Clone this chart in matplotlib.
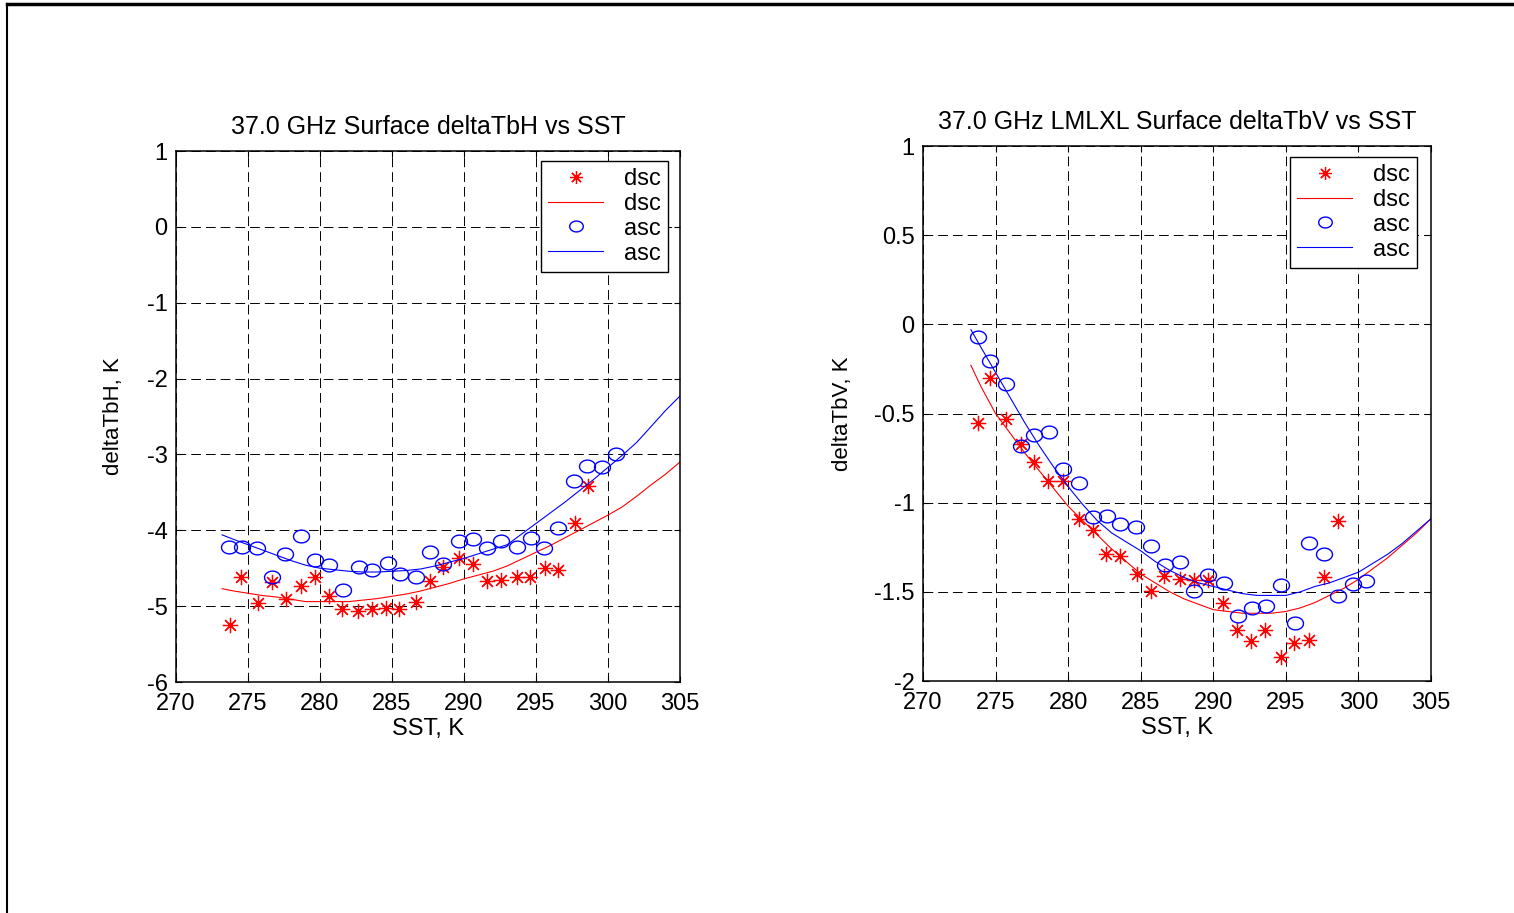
import numpy as np
import matplotlib
matplotlib.use("Agg")
import matplotlib.pyplot as plt
from matplotlib.lines import Line2D
from matplotlib.path import Path

plt.rcParams["font.family"] = ["Liberation Sans", "DejaVu Sans"]
plt.rcParams["axes.unicode_minus"] = False
plt.rcParams["lines.scale_dashes"] = False

# --- Left panel: 37.0 GHz deltaTbH ---
h_dsc_x = [273.75, 274.54, 275.67, 276.65, 277.62, 278.66, 279.63, 280.6, 281.55, 282.66,
           283.59, 284.56, 285.51, 286.65, 287.62, 288.57, 289.68, 290.65, 291.62, 292.55,
           293.66, 294.59, 295.61, 296.53, 297.69, 298.61]
h_dsc_y = [-5.25, -4.62, -4.96, -4.68, -4.90, -4.74, -4.62, -4.86, -5.04, -5.07,
           -5.04, -5.02, -5.04, -4.94, -4.67, -4.48, -4.37, -4.44, -4.67, -4.65,
           -4.62, -4.62, -4.50, -4.52, -3.91, -3.42]
h_asc_x = [273.7, 274.56, 275.65, 276.65, 277.57, 278.68, 279.63, 280.6, 281.58, 282.69,
           283.61, 284.72, 285.53, 286.67, 287.62, 288.57, 289.68, 290.65, 291.62, 292.57,
           293.66, 294.63, 295.58, 296.55, 297.64, 298.57, 299.59, 300.54]
h_asc_y = [-4.22, -4.22, -4.24, -4.62, -4.31, -4.08, -4.39, -4.46, -4.79, -4.48,
           -4.52, -4.43, -4.58, -4.62, -4.29, -4.45, -4.14, -4.12, -4.23, -4.14,
           -4.22, -4.10, -4.24, -3.97, -3.35, -3.15, -3.16, -2.99]

fit_x = [273.2, 274, 275, 276, 277, 278, 279, 280, 281, 282, 283, 284, 285, 286, 287, 288,
         289, 290, 291, 292, 293, 294, 295, 296, 297, 298, 299, 300, 301, 302, 303, 304, 305]
h_dsc_fit = [-4.77, -4.80, -4.83, -4.86, -4.88, -4.91, -4.94, -4.94, -4.94, -4.94, -4.92,
             -4.90, -4.87, -4.84, -4.80, -4.75, -4.70, -4.64, -4.59, -4.54, -4.47, -4.38,
             -4.29, -4.20, -4.10, -4.00, -3.90, -3.80, -3.69, -3.55, -3.40, -3.26, -3.10]
h_asc_fit = [-4.06, -4.12, -4.19, -4.26, -4.33, -4.40, -4.46, -4.50, -4.52, -4.54, -4.55,
             -4.55, -4.54, -4.53, -4.51, -4.47, -4.42, -4.37, -4.31, -4.25, -4.19, -4.05,
             -3.91, -3.77, -3.63, -3.48, -3.33, -3.17, -3.01, -2.84, -2.63, -2.42, -2.23]

# --- Right panel: 37.0 GHz LMLXL deltaTbV ---
v_dsc_x = [273.81, 274.60, 275.69, 276.73, 277.66, 278.61, 279.63, 280.72, 281.70, 282.64,
           283.59, 284.73, 285.68, 286.61, 287.68, 288.65, 289.65, 290.69, 291.64, 292.62,
           293.57, 294.68, 295.58, 296.58, 297.65, 298.62]
v_dsc_y = [-0.552, -0.30, -0.53, -0.669, -0.773, -0.88, -0.88, -1.092, -1.155, -1.288,
           -1.298, -1.40, -1.498, -1.41, -1.429, -1.436, -1.433, -1.564, -1.713, -1.775,
           -1.713, -1.867, -1.785, -1.77, -1.418, -1.101]
v_asc_x = [273.81, 274.60, 275.69, 276.78, 277.66, 278.70, 279.65, 280.75, 281.70, 282.69,
           283.59, 284.69, 285.68, 286.68, 287.68, 288.65, 289.65, 290.72, 291.67, 292.66,
           293.61, 294.68, 295.63, 296.58, 297.65, 298.60, 299.60, 300.55]
v_asc_y = [-0.069, -0.204, -0.337, -0.683, -0.622, -0.603, -0.809, -0.889, -1.082, -1.077,
           -1.12, -1.137, -1.245, -1.352, -1.333, -1.494, -1.404, -1.451, -1.635, -1.588,
           -1.582, -1.464, -1.672, -1.227, -1.288, -1.521, -1.457, -1.438]

vfit_x = [273.3, 274, 275, 276, 277, 278, 279, 280, 281, 282, 283, 284, 285, 286, 287, 288,
          289, 290, 291, 292, 293, 294, 295, 296, 297, 298, 299, 300, 301, 302, 303, 304, 305]
v_dsc_fit = [-0.23, -0.35, -0.50, -0.61, -0.72, -0.82, -0.92, -1.02, -1.10, -1.18, -1.26,
             -1.33, -1.40, -1.45, -1.50, -1.54, -1.57, -1.60, -1.61, -1.62, -1.62, -1.62,
             -1.61, -1.59, -1.56, -1.52, -1.48, -1.43, -1.37, -1.31, -1.24, -1.17, -1.09]
v_asc_fit = [-0.03, -0.13, -0.27, -0.41, -0.55, -0.68, -0.80, -0.91, -1.01, -1.10, -1.17,
             -1.22, -1.27, -1.33, -1.38, -1.42, -1.45, -1.47, -1.49, -1.51, -1.52, -1.52,
             -1.52, -1.50, -1.47, -1.45, -1.42, -1.39, -1.34, -1.29, -1.23, -1.16, -1.09]

xticks = [270, 275, 280, 285, 290, 295, 300, 305]
h_yticks = [-6, -5, -4, -3, -2, -1, 0, 1]
v_yticks = [-2, -1.5, -1, -0.5, 0, 0.5, 1]
v_yticklabels = ["-2", "-1.5", "-1", "-0.5", "0", "0.5", "1"]

W, H = 1514, 913
fig = plt.figure(figsize=(W / 100, H / 100), dpi=100)
ax1 = fig.add_axes([176 / W, 1 - 682 / H, 504 / W, 531 / H])
ax2 = fig.add_axes([923 / W, 1 - 681 / H, 508 / W, 535 / H])

# MATLAB-like markers: '*' is + and x overlaid, 'o' comes out slightly flattened
STAR = (8, 2, 0)
t = np.linspace(0, 2 * np.pi, 41)
OVAL = Path(np.column_stack([np.cos(t), 0.8 * np.sin(t)]))
FS = 17


def draw(ax, dsc_x, dsc_y, fx, dsc_fit, asc_x, asc_y, asc_fit):
    ax.plot(dsc_x, dsc_y, ls="none", marker=STAR, ms=11, mew=0.9, color="red", label="dsc")
    ax.plot(fx, dsc_fit, color="red", lw=0.8, label="dsc")
    ax.plot(asc_x, asc_y, ls="none", marker=OVAL, ms=11.5, mfc="none", mew=1.0,
            color="blue", label="asc")
    ax.plot(fx, asc_fit, color="blue", lw=0.8, label="asc")


def style(ax):
    ax.set_xlim(270, 305)
    ax.set_xticks(xticks)
    ax.tick_params(direction="in", top=True, right=True, length=4, labelsize=FS)
    ax.tick_params(axis="x", pad=8)
    ax.tick_params(axis="y", pad=6)
    ax.grid(True, color="black", linestyle=(0, (7, 3.6)), lw=0.7)
    for s in ax.spines.values():
        s.set_linewidth(1.1)
    ax.set_xlabel("SST, K", fontsize=FS, labelpad=2)


draw(ax1, h_dsc_x, h_dsc_y, fit_x, h_dsc_fit, h_asc_x, h_asc_y, h_asc_fit)
style(ax1)
ax1.set_ylim(-6, 1)
ax1.set_yticks(h_yticks)
ax1.set_ylabel("deltaTbH, K", fontsize=16, labelpad=16)
ax1.set_title("37.0 GHz Surface deltaTbH vs SST", fontsize=18, pad=12)

draw(ax2, v_dsc_x, v_dsc_y, vfit_x, v_dsc_fit, v_asc_x, v_asc_y, v_asc_fit)
style(ax2)
ax2.set_ylim(-2, 1)
ax2.set_yticks(v_yticks)
ax2.set_yticklabels(v_yticklabels)
ax2.set_ylabel("deltaTbV, K", fontsize=16, labelpad=15)
ax2.set_title("37.0 GHz LMLXL Surface deltaTbV vs SST", fontsize=18, pad=12)

for ax, (lx, ly) in ((ax1, (668, 161)), (ax2, (1417, 157))):
    leg = ax.legend(loc="upper right", bbox_to_anchor=(lx / W, 1 - ly / H),
                    bbox_transform=fig.transFigure, fontsize=FS, fancybox=False,
                    edgecolor="black", framealpha=1, borderaxespad=0, markerscale=0.85,
                    handlelength=2.3, labelspacing=0.12, borderpad=0.3, handletextpad=0.9)
    leg.get_frame().set_linewidth(1.0)

# outer frame lines from the original export
fig.add_artist(Line2D([7 / W, 1], [1 - 4 / H, 1 - 4 / H], color="black", lw=2.5,
                      transform=fig.transFigure))
fig.add_artist(Line2D([7 / W, 7 / W], [0, 1 - 4 / H], color="black", lw=1.5,
                      transform=fig.transFigure))

fig.savefig("out.png", dpi=100)
